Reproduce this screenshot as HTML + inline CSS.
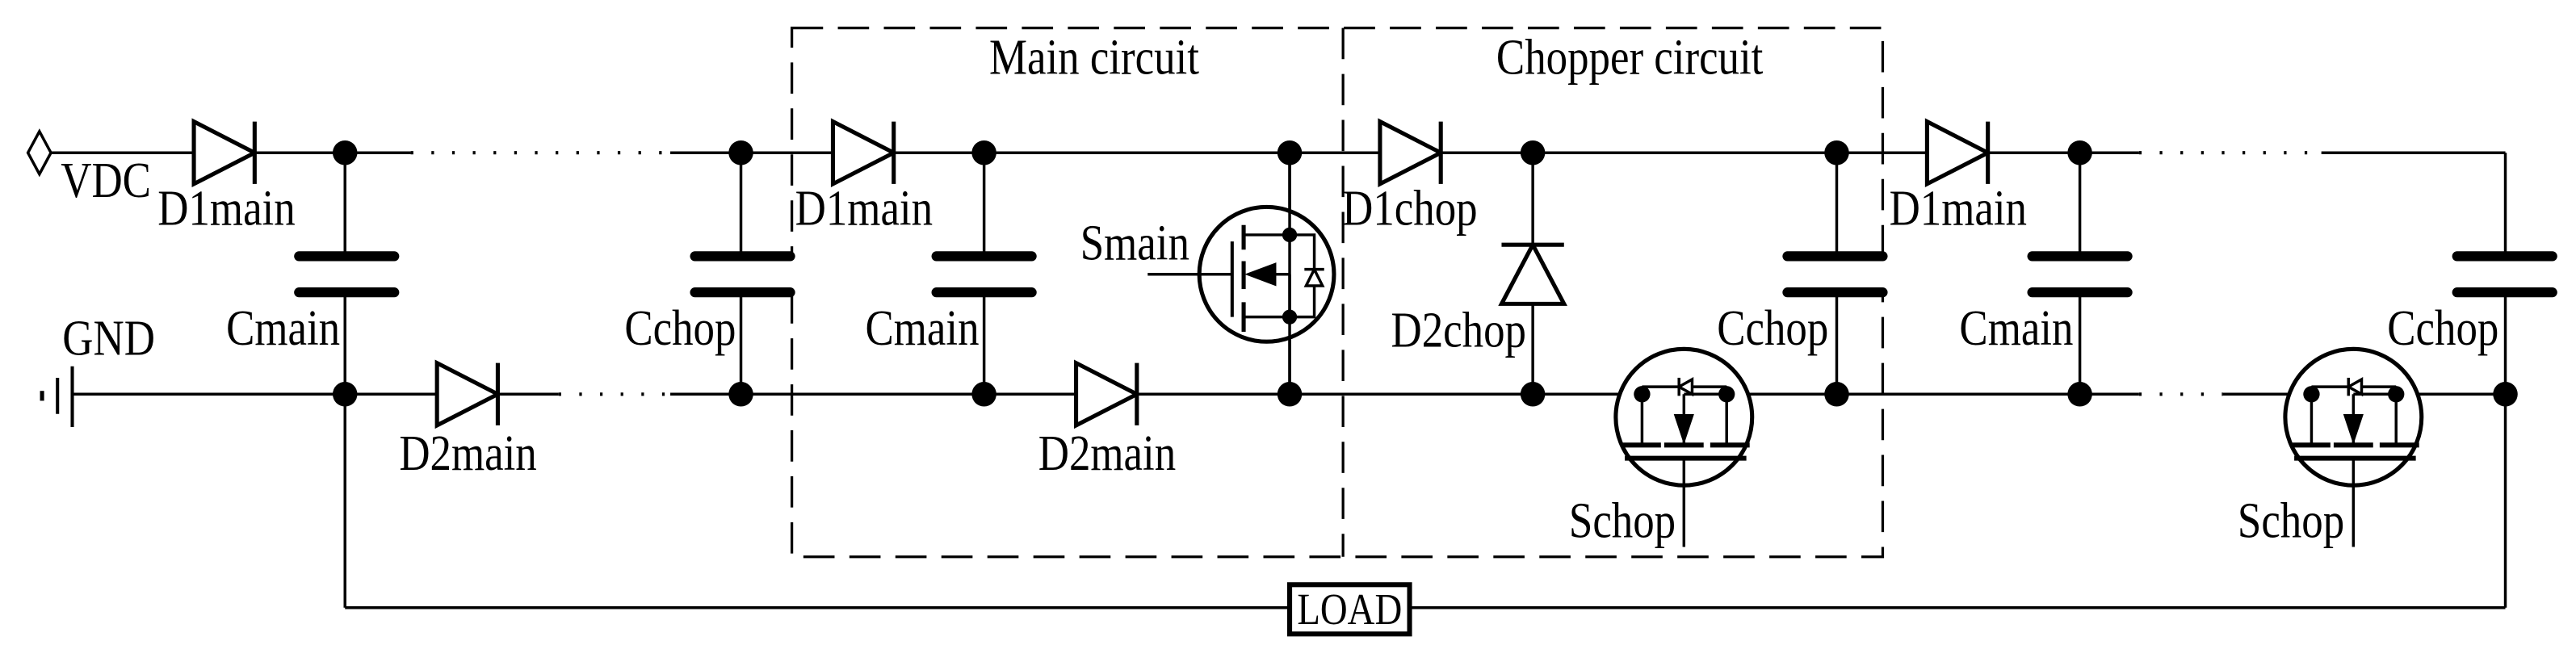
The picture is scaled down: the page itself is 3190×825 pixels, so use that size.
<!DOCTYPE html>
<html><head><meta charset="utf-8"><style>
html,body{margin:0;padding:0;background:#fff;}
svg{display:block;}
text{font-family:"Liberation Serif",serif;font-size:26px;fill:#000;transform-box:fill-box;transform-origin:50% 80%;transform:scaleY(1.18);}
</style></head><body>
<svg width="3190" height="825" viewBox="0 0 1568 405.5" xmlns="http://www.w3.org/2000/svg">
<defs>
<g id="dh"><polygon points="0,-19 0,19 37,0" fill="#fff" stroke="#000" stroke-width="2.5"/><line x1="37" y1="-19" x2="37" y2="19" stroke="#000" stroke-width="2.5"/></g>
<g id="cap"><line x1="-29" y1="-11" x2="29" y2="-11" stroke="#000" stroke-width="6" stroke-linecap="round"/><line x1="-29" y1="11" x2="29" y2="11" stroke="#000" stroke-width="6" stroke-linecap="round"/></g>
<g id="sch" stroke="#000" fill="none" stroke-width="1.7">
<circle cx="0" cy="0" r="41.5" stroke-width="2.5" fill="#fff"/>
<line x1="-25.5" y1="-14" x2="-25.5" y2="17"/>
<line x1="26" y1="-14" x2="26" y2="17"/>
<line x1="-25.5" y1="-18.5" x2="26" y2="-18.5"/>
<line x1="-25.5" y1="-18.5" x2="-25.5" y2="-14"/>
<line x1="26" y1="-18.5" x2="26" y2="-14"/>
<polygon points="-3,-18.5 5,-23 5,-14" fill="#fff"/>
<line x1="-3" y1="-24" x2="-3" y2="-13"/>
<line x1="0" y1="-14" x2="26" y2="-14"/>
<line x1="0" y1="-14" x2="0" y2="17"/>
<polygon points="-5,-1 5,-1 0,14" fill="#000"/>
<line x1="-37" y1="17" x2="-14" y2="17" stroke-width="3"/>
<line x1="-12" y1="17" x2="12" y2="17" stroke-width="3"/>
<line x1="16" y1="17" x2="40" y2="17" stroke-width="3"/>
<line x1="-36" y1="25" x2="38" y2="25" stroke-width="3"/>
<line x1="0" y1="25" x2="0" y2="79"/>
<circle cx="-25.5" cy="-14" r="5" fill="#000" stroke="none"/>
<circle cx="26" cy="-14" r="5" fill="#000" stroke="none"/>
</g>
</defs>
<g stroke="#000" stroke-width="1.7" fill="none">
<g stroke-dasharray="19 9" stroke-width="1.6">
<rect x="482" y="17" width="664" height="322"/>
<line x1="817.5" y1="17" x2="817.5" y2="339"/>
</g>
<polygon points="17,93 24,80 31,93 24,106" fill="#fff"/>
<line x1="31" y1="93" x2="250" y2="93"/>
<line x1="250" y1="93" x2="408" y2="93" stroke-dasharray="1.6 11" stroke-width="2"/>
<line x1="408" y1="93" x2="1302" y2="93"/>
<line x1="1302" y1="93" x2="1410" y2="93" stroke-dasharray="1.6 11" stroke-width="2"/>
<line x1="1413" y1="93" x2="1525" y2="93"/>
<line x1="25.6" y1="238" x2="25.6" y2="244" stroke-width="2.5"/>
<line x1="35" y1="230" x2="35" y2="252" stroke-width="2"/>
<line x1="44" y1="223" x2="44" y2="260" stroke-width="2"/>
<line x1="44" y1="240" x2="340" y2="240"/>
<line x1="340" y1="240" x2="408" y2="240" stroke-dasharray="1.6 11" stroke-width="2"/>
<line x1="408" y1="240" x2="1302" y2="240"/>
<line x1="1302" y1="240" x2="1353" y2="240" stroke-dasharray="1.6 11" stroke-width="2"/>
<line x1="1353" y1="240" x2="1525" y2="240"/>
<line x1="210" y1="93" x2="210" y2="370"/>
<line x1="451" y1="93" x2="451" y2="240"/>
<line x1="599" y1="93" x2="599" y2="240"/>
<line x1="785" y1="93" x2="785" y2="240"/>
<line x1="933" y1="93" x2="933" y2="240"/>
<line x1="1118" y1="93" x2="1118" y2="240"/>
<line x1="1266" y1="93" x2="1266" y2="240"/>
<line x1="1525" y1="93" x2="1525" y2="370"/>
<line x1="210" y1="370" x2="1525" y2="370"/>
</g>
<use href="#dh" x="118" y="93"/>
<use href="#dh" x="266" y="240"/>
<use href="#dh" x="507" y="93"/>
<use href="#dh" x="655" y="240"/>
<use href="#dh" x="840" y="93"/>
<use href="#dh" x="1173" y="93"/>
<polygon points="914,185 952,185 933,149" fill="#fff" stroke="#000" stroke-width="2.5"/>
<line x1="914" y1="149" x2="952" y2="149" stroke="#000" stroke-width="2.5"/>
<rect x="176" y="155" width="70" height="24" fill="#fff"/><use href="#cap" x="211" y="167"/>
<rect x="417" y="155" width="70" height="24" fill="#fff"/><use href="#cap" x="452" y="167"/>
<rect x="565" y="155" width="70" height="24" fill="#fff"/><use href="#cap" x="599" y="167"/>
<rect x="1083" y="155" width="70" height="24" fill="#fff"/><use href="#cap" x="1117" y="167"/>
<rect x="1231" y="155" width="70" height="24" fill="#fff"/><use href="#cap" x="1266" y="167"/>
<rect x="1489" y="155" width="70" height="24" fill="#fff"/><use href="#cap" x="1524.6" y="167"/>
<g stroke="#000" stroke-width="1.7" fill="none">
<circle cx="771" cy="167" r="41" stroke-width="2.5" fill="#fff"/>
<line x1="785" y1="93" x2="785" y2="240"/>
<line x1="698.6" y1="167" x2="750" y2="167"/>
<line x1="750" y1="147" x2="750" y2="193" stroke-width="2"/>
<line x1="757" y1="137" x2="757" y2="152" stroke-width="2.5"/>
<line x1="757" y1="159" x2="757" y2="176" stroke-width="2.5"/>
<line x1="757" y1="184" x2="757" y2="202" stroke-width="2.5"/>
<line x1="757" y1="143" x2="785" y2="143"/>
<line x1="757" y1="193" x2="785" y2="193"/>
<line x1="770" y1="167" x2="785" y2="167"/>
<line x1="785" y1="167" x2="785" y2="193"/>
<polygon points="760,167 776,161 776,173" fill="#000"/>
<polyline points="785,143 800,143 800,193 785,193"/>
<polygon points="795,174 805,174 800,164" fill="#fff"/>
<line x1="794" y1="164" x2="806" y2="164"/>
</g>
<circle cx="785" cy="143" r="4.5"/>
<circle cx="785" cy="193" r="4.5"/>
<use href="#sch" x="1025" y="254"/>
<use href="#sch" x="1432.5" y="254"/>
<g fill="#000">
<circle cx="210" cy="93" r="7.5"/><circle cx="451" cy="93" r="7.5"/><circle cx="599" cy="93" r="7.5"/><circle cx="785" cy="93" r="7.5"/><circle cx="933" cy="93" r="7.5"/><circle cx="1118" cy="93" r="7.5"/><circle cx="1266" cy="93" r="7.5"/>
<circle cx="210" cy="240" r="7.5"/><circle cx="451" cy="240" r="7.5"/><circle cx="599" cy="240" r="7.5"/><circle cx="785" cy="240" r="7.5"/><circle cx="933" cy="240" r="7.5"/><circle cx="1118" cy="240" r="7.5"/><circle cx="1266" cy="240" r="7.5"/><circle cx="1525" cy="240" r="7.5"/>
</g>
<rect x="785" y="356" width="73" height="30" fill="#fff" stroke="#000" stroke-width="3"/>
<text x="821.5" y="380" text-anchor="middle" style="font-size:23px">LOAD</text>
<text x="37" y="120">VDC</text>
<text x="38" y="216">GND</text>
<text x="96" y="137">D1main</text>
<text x="484" y="137">D1main</text>
<text x="1150" y="137">D1main</text>
<text x="817" y="137">D1chop</text>
<text x="243" y="286">D2main</text>
<text x="632" y="286">D2main</text>
<text x="929" y="211" text-anchor="end">D2chop</text>
<text x="207" y="210" text-anchor="end">Cmain</text>
<text x="596" y="210" text-anchor="end">Cmain</text>
<text x="1262" y="210" text-anchor="end">Cmain</text>
<text x="448" y="210" text-anchor="end">Cchop</text>
<text x="1113" y="210" text-anchor="end">Cchop</text>
<text x="1521" y="210" text-anchor="end">Cchop</text>
<text x="724" y="158" text-anchor="end">Smain</text>
<text x="1020" y="327" text-anchor="end">Schop</text>
<text x="1427" y="327" text-anchor="end">Schop</text>
<text x="666" y="45" text-anchor="middle">Main circuit</text>
<text x="992" y="45" text-anchor="middle">Chopper circuit</text>
</svg>
</body></html>
